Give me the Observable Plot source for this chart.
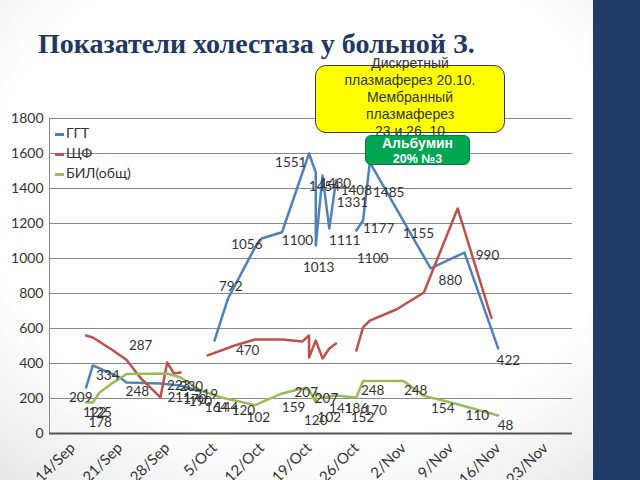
<!DOCTYPE html>
<html><head><meta charset="utf-8">
<script src="https://cdn.jsdelivr.net/npm/d3@7"></script>
<script src="https://cdn.jsdelivr.net/npm/@observablehq/plot@0.6"></script>
<style>
html,body{margin:0;padding:0;width:640px;height:480px;overflow:hidden;}
body{position:relative;background:radial-gradient(ellipse 80% 85% at 48% 40%, #ffffff 62%, #e2e2e2 100%);font-family:Lato,sans-serif;}
#title{position:absolute;left:38px;top:28px;font:bold 28px "Liberation Serif",serif;color:#1F3864;white-space:nowrap;}
#bar{position:absolute;left:593px;top:0;width:47px;height:480px;background:#1F3B66;}
#chart{position:absolute;left:0;top:0;}
#legend{position:absolute;left:55px;top:123px;font:14px Lato,sans-serif;color:#333;}
#legend div{height:20px;line-height:20px;white-space:nowrap;}
#legend .sw{display:inline-block;width:9px;height:3px;vertical-align:middle;margin-right:2px;}
#yellow{position:absolute;left:315px;top:65px;width:188px;height:66px;background:#FFFF00;border:1.5px solid #3a3a3a;border-radius:11px;}
#ytext{position:absolute;left:315px;top:55px;width:190px;text-align:center;font:14px "Liberation Sans",Arial,sans-serif;line-height:17px;color:#333;}
#green{position:absolute;left:365px;top:135px;width:103px;height:28px;background:#00A651;border:1.5px solid #0b7d3e;border-radius:6px;color:#fff;text-align:center;font:bold 14px "Liberation Sans",Arial,sans-serif;line-height:15px;}
#green .s{font-size:12.5px;}
</style></head><body>
<div id="bar"></div>
<div id="title">Показатели холестаза у больной З.</div>
<div id="chart"></div>
<div id="legend"></div>
<div id="yellow"></div>
<div id="ytext">Дискретный<br>плазмаферез 20.10.<br>Мембранный<br>плазмаферез<br>23 и 26. 10</div>
<div id="green">Альбумин<br><span class="s">20% №3</span></div>
<script>
// ---- data ----
const seriesNames = ["ГГТ", "ЩФ", "БИЛ(общ)"];
const seriesColors = ["#4F81BD", "#C0504D", "#9BBB59"];

const ggtDates = ["2012-09-16","2012-09-17","2012-09-21","2012-09-22","2012-09-27","2012-09-30","2012-10-03","2012-10-04",
  "2012-10-05","2012-10-07","2012-10-11","2012-10-12","2012-10-15","2012-10-19","2012-10-20","2012-10-20","2012-10-21","2012-10-22","2012-10-23","2012-10-24",
  "2012-10-26","2012-10-27","2012-10-28","2012-11-06","2012-11-11","2012-11-16"];
const ggtValues = [263,389,320,291,286,274,240,null,
  531,771,1063,1114,1150,1600,1491,1074,1474,1171,1446,null,
  1160,1217,1549,943,1034,486];

const alpDates = ["2012-09-16","2012-09-17","2012-09-20","2012-09-22","2012-09-24","2012-09-27","2012-09-28","2012-09-29","2012-09-30","2012-10-02",
  "2012-10-04","2012-10-08","2012-10-11","2012-10-15","2012-10-18","2012-10-19","2012-10-19","2012-10-20","2012-10-21","2012-10-22","2012-10-23","2012-10-24",
  "2012-10-26","2012-10-27","2012-10-28","2012-11-01","2012-11-05","2012-11-10","2012-11-15"];
const alpValues = [560,549,474,420,320,206,406,343,349,null,
  446,503,537,537,526,560,434,531,429,486,514,null,
  474,606,645,710,806,1286,660];

const bilDates = ["2012-09-16","2012-09-17","2012-09-18","2012-09-20","2012-09-22","2012-09-28","2012-09-30","2012-10-03","2012-10-06","2012-10-08",
  "2012-10-11","2012-10-15","2012-10-18","2012-10-19","2012-10-20","2012-10-20","2012-10-21","2012-10-23","2012-10-26","2012-10-27",
  "2012-11-02","2012-11-05","2012-11-09","2012-11-16"];
const bilValues = [177,177,234,291,340,343,320,246,206,189,
  162,229,257,250,177,234,206,217,206,300,
  300,215,177,103];

const labelText = ["209","122","125","178","334","287","248","223","230","211",
  "170","190","219","164","144","120","102","159","207","120",
  "207","102","141","186","152","170","248","248","154","110",
  "48","422","990","880","1155","1485","1177","1100","1331","1408",
  "1111","1013","1100","1551","1056","792","470","1454","1430"];
const labelDate = ["2012-09-15T05","2012-09-17T07","2012-09-18T02","2012-09-18T02","2012-09-19T05","2012-09-24T02","2012-09-23T14","2012-09-29T17","2012-10-01T14","2012-09-29T19",
  "2012-10-02T02","2012-10-02T22","2012-10-03T19","2012-10-05T07","2012-10-06T19","2012-10-09T07","2012-10-11T12","2012-10-16T17","2012-10-18T14","2012-10-20T00",
  "2012-10-21T14","2012-10-22T00","2012-10-23T17","2012-10-26T00","2012-10-26T22","2012-10-28T19","2012-10-28T10","2012-11-03T19","2012-11-07T19","2012-11-12T22",
  "2012-11-17T02","2012-11-17T12","2012-11-14T10","2012-11-08T22","2012-11-04T05","2012-10-30T19","2012-10-29T07","2012-10-28T10","2012-10-25T10","2012-10-26T00",
  "2012-10-24T07","2012-10-20T10","2012-10-17T07","2012-10-16T07","2012-10-09T19","2012-10-07T10","2012-10-09T22","2012-10-21T07","2012-10-22T22"];
const labelValue = [206,120,120,63,331,503,240,274,269,206,
  194,183,223,149,149,131,91,149,234,74,
  200,91,143,143,91,131,246,246,143,103,
  46,417,1017,874,1143,1377,1171,1000,1320,1389,
  1103,949,1103,1549,1080,840,474,1411,1429];

const xTickDates = ["2012-09-14","2012-09-21","2012-09-28","2012-10-05","2012-10-12","2012-10-19","2012-10-26","2012-11-02","2012-11-09","2012-11-16","2012-11-23"];
const yTickValues = [0,200,400,600,800,1000,1200,1400,1600,1800];
const xDomain = ["2012-09-10T14","2012-11-27T00"];

// ---- build ----
const P = s => new Date(s.length === 10 ? s + "T00:00Z" : s + ":00Z");
const mk = (dates, vals) => dates.map((d, i) => ({date: P(d), value: vals[i]}));
const ggt = mk(ggtDates, ggtValues), alp = mk(alpDates, alpValues), bil = mk(bilDates, bilValues);
const labels = labelText.map((t, i) => ({text: t, date: P(labelDate[i]), value: labelValue[i]}));
const xTicks = xTickDates.map(P);
const dom = xDomain.map(P);

const chart = Plot.plot({
  width: 640, height: 520,
  marginLeft: 49, marginRight: 68, marginTop: 118, marginBottom: 87,
  x: {type: "utc", domain: dom},
  y: {domain: [0, 1800]},
  style: {background: "transparent", fontFamily: "Lato, sans-serif", color: "#333", overflow: "visible"},
  marks: [
    Plot.ruleY(yTickValues.slice(1), {stroke: "#8a8a8a", strokeWidth: 1}),
    Plot.ruleX([dom[0]], {stroke: "#8a8a8a", strokeWidth: 1}),
    Plot.ruleY([0], {stroke: "#555", strokeWidth: 2}),
    Plot.axisY({ticks: yTickValues, tickFormat: d3.format("d"), tickSize: 0, tickPadding: 6, fontSize: 14, label: null}),
    Plot.axisX({ticks: xTicks, tickFormat: d3.utcFormat("%-d/%b"), tickRotate: -45, tickSize: 0, tickPadding: 12, fontSize: 15, label: null}),
    Plot.line(ggt, {x: "date", y: "value", stroke: seriesColors[0], strokeWidth: 2.5}),
    Plot.line(alp, {x: "date", y: "value", stroke: seriesColors[1], strokeWidth: 2.5}),
    Plot.line(bil, {x: "date", y: "value", stroke: seriesColors[2], strokeWidth: 2.5}),
    Plot.text(labels, {x: "date", y: "value", text: "text", fontSize: 13.5, fill: "#333"})
  ]
});
document.getElementById("chart").appendChild(chart);

const lg = document.getElementById("legend");
seriesNames.forEach((n, i) => {
  const row = document.createElement("div");
  const sw = document.createElement("span");
  sw.className = "sw"; sw.style.background = seriesColors[i];
  row.appendChild(sw); row.appendChild(document.createTextNode(n));
  lg.appendChild(row);
});
</script>
</body></html>
